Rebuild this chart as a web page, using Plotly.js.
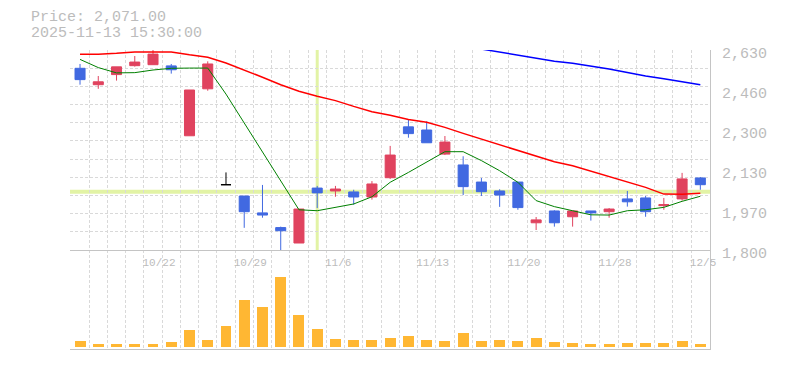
<!DOCTYPE html>
<html><head><meta charset="utf-8">
<script src="https://cdn.plot.ly/plotly-3.0.1.min.js"></script>
<style>html,body{margin:0;padding:0;background:#fff;}#chart{width:785px;height:370px;}</style>
</head><body><div id="chart"></div>
<script>
const dates = ['10/16','10/17','10/20','10/21','10/22','10/23','10/24','10/27','10/28','10/29','10/30','10/31',
  '11/4','11/5','11/6','11/7','11/10','11/11','11/12','11/13','11/14','11/17','11/18','11/19','11/20','11/21',
  '11/25','11/26','11/27','11/28','12/1','12/2','12/3','12/4','12/5'];
const openP  = [2554,2486,2528,2565,2569,2564,2274,2469,2071,2024,1954,1893,1829,2057,2045,2041,2020,2100,2311,2298,2198,2153,2082,2045,2082,1913,1962,1938,1962,1959,2012,2016,1984,2012,2099];
const highP  = [2572,2522,2560,2605,2630,2572,2464,2583,2122,2024,2070,1897,1970,2066,2066,2050,2086,2232,2342,2334,2273,2189,2099,2052,2082,1937,1965,1962,1962,1974,2045,2024,2016,2120,2103];
const lowP   = [2486,2469,2503,2561,2569,2532,2274,2461,2071,1892,1934,1797,1829,1974,2021,1988,2009,2095,2266,2245,2194,2028,2024,1979,1967,1883,1897,1897,1922,1934,1980,1938,1967,2005,2050];
const closeP = [2507,2498,2560,2580,2613,2548,2464,2572,2071,1959,1945,1880,1970,2037,2053,2020,2074,2194,2283,2245,2248,2063,2042,2028,1976,1925,1913,1962,1954,1970,2000,1959,1988,2095,2071];
const volume = [60,37,37,37,37,50,170,70,217,477,407,710,327,187,87,77,70,97,117,77,67,147,67,77,67,97,57,47,37,37,47,47,47,67,37];
const ma5  = [2591,2557,2535,2536,2547,2554,2555,2555,2447,2327,2204,2082,1967,1963,1977,1991,2021,2081,2122,2164,2208,2208,2171,2129,2081,2005,1980,1963,1946,1945,1963,1967,1977,2002,2023];
const ma25 = [2612,2612,2616,2622,2622,2622,2610,2600,2576,2548,2517,2486,2459,2438,2420,2396,2374,2359,2342,2330,2309,2284,2261,2236,2212,2189,2166,2150,2127,2104,2081,2060,2032,2031,2035];
const ma75 = [null,null,null,null,null,null,null,null,null,null,null,null,null,null,null,null,null,null,null,null,null,null,
  2634,2622,2609,2596,2583,2575,2564,2551,2537,2522,2511,2498,2486];
const priceTickVals = [1800,1966,2132,2298,2464,2630];
const priceTickText = ['1,800','1,970','2,130','2,300','2,460','2,630'];
const dateTickLabels = ['10/22','10/29','11/6','11/13','11/20','11/28','12/5'];
const cursorIndex = 13;
const cursorPrice = 2042;
const infoLines = ['Price: 2,071.00','2025-11-13 15:30:00'];

const PINK = '#e0435f', BLUE = '#4169e1', GRID = '#d9d9d9', AXIS = '#c4c4c4', TXT = '#bcbcbc';
const MONO = '"Liberation Mono", "DejaVu Sans Mono", monospace';
const xs = dates.map((d, i) => i);
const isDoji = i => openP[i] === closeP[i];
const normIdx = xs.filter(i => !isDoji(i));
const dojiIdx = xs.filter(i => isDoji(i));
const pick = (arr, idx) => idx.map(i => arr[i]);

const candleCommon = {type: 'candlestick', xaxis: 'x2', yaxis: 'y', whiskerwidth: 0, hoverinfo: 'skip', showlegend: false};
const traces = [
  {type: 'scatter', mode: 'lines', x: xs, y: ma75, xaxis: 'x2', yaxis: 'y', line: {color: '#0000ff', width: 1.5}, hoverinfo: 'skip', showlegend: false},
  {type: 'scatter', mode: 'lines', x: xs, y: ma25, xaxis: 'x2', yaxis: 'y', line: {color: '#ff0000', width: 1.5}, hoverinfo: 'skip', showlegend: false},
  {type: 'scatter', mode: 'lines', x: xs, y: ma5, xaxis: 'x2', yaxis: 'y', line: {color: '#008000', width: 1}, hoverinfo: 'skip', showlegend: false},
  Object.assign({}, candleCommon, {
    x: normIdx, open: pick(openP, normIdx), high: pick(highP, normIdx), low: pick(lowP, normIdx), close: pick(closeP, normIdx),
    increasing: {line: {color: PINK, width: 1}, fillcolor: PINK},
    decreasing: {line: {color: BLUE, width: 1}, fillcolor: BLUE}
  }),
  Object.assign({}, candleCommon, {
    x: dojiIdx, open: pick(openP, dojiIdx), high: pick(highP, dojiIdx), low: pick(lowP, dojiIdx), close: pick(closeP, dojiIdx),
    increasing: {line: {color: '#000000', width: 1}, fillcolor: '#000000'},
    decreasing: {line: {color: '#000000', width: 1}, fillcolor: '#000000'}
  }),
  {type: 'bar', x: xs, y: volume, xaxis: 'x', yaxis: 'y2', width: 0.6, marker: {color: '#ffb733', line: {width: 0}}, hoverinfo: 'skip', showlegend: false}
];

const xRange = [-0.55, 34.53];
const xMinor = {tickmode: 'linear', tick0: -0.5, dtick: 1, showgrid: true, gridcolor: GRID, griddash: '3px,2px', gridwidth: 1, ticks: ''};
const pMin = priceTickVals[0], pMax = priceTickVals[priceTickVals.length - 1];
const split = 99 / 299;
const layout = {
  width: 785, height: 370,
  margin: {l: 70, r: 75, t: 50, b: 21, pad: 0},
  paper_bgcolor: '#ffffff', plot_bgcolor: '#ffffff',
  showlegend: false,
  boxgap: 0.45, boxgroupgap: 0,
  bargap: 0,
  xaxis: {domain: [0, 1], anchor: 'y2', range: xRange, showline: true, linecolor: AXIS, linewidth: 1,
    showgrid: false, zeroline: false, showticklabels: false, ticks: '', minor: xMinor, fixedrange: true},
  xaxis2: {domain: [0, 1], anchor: 'y', range: xRange, showline: true, linecolor: AXIS, linewidth: 1,
    showgrid: false, zeroline: false, ticks: '', tickmode: 'array',
    tickvals: dateTickLabels.map(d => dates.indexOf(d)), ticktext: dateTickLabels,
    ticklabelposition: 'outside right', ticklabelshift: -11, ticklabelstandoff: 2,
    tickfont: {family: MONO, size: 11, color: TXT}, minor: xMinor, rangeslider: {visible: false}, fixedrange: true},
  yaxis: {domain: [split, 1], anchor: 'x2', side: 'right', range: [pMin, pMax],
    showline: true, linecolor: AXIS, linewidth: 1, zeroline: false, showgrid: false, ticks: '',
    tickmode: 'array', tickvals: priceTickVals, ticktext: priceTickText,
    ticklabelstandoff: 8, ticklabelshift: 3, tickfont: {family: MONO, size: 15, color: TXT},
    minor: {tickmode: 'linear', tick0: pMin - 0.001, dtick: (pMax - pMin) / 11, showgrid: true, gridcolor: GRID, griddash: '3px,2px', gridwidth: 1, ticks: ''},
    fixedrange: true},
  yaxis2: {domain: [0, split], anchor: 'x', side: 'right', range: [-16, 977], showline: true, linecolor: AXIS, linewidth: 1,
    showgrid: false, zeroline: false, showticklabels: false, ticks: '', fixedrange: true},
  shapes: [
    {type: 'line', layer: 'below', xref: 'x2 domain', x0: 0, x1: 1, yref: 'y', y0: cursorPrice, y1: cursorPrice,
      line: {color: '#e2f3a5', width: 4}},
    {type: 'line', layer: 'below', xref: 'x2', x0: cursorIndex, x1: cursorIndex, yref: 'y domain', y0: 0, y1: 1,
      line: {color: '#e2f3a5', width: 3}}
  ],
  annotations: infoLines.map((t, k) => ({
    text: t, xref: 'paper', yref: 'paper', x: 0, y: 1, xanchor: 'left', yanchor: 'middle',
    xshift: -41, yshift: 33 - 16 * k, showarrow: false, font: {family: MONO, size: 15, color: TXT}
  }))
};
Plotly.newPlot('chart', traces, layout, {displayModeBar: false, staticPlot: true});
</script>
</body></html>
